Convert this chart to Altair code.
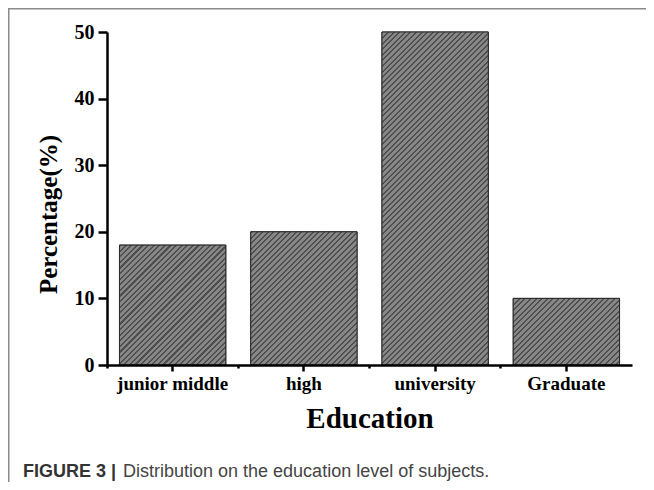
import altair as alt
import pandas as pd

categories = ["junior middle", "high", "university", "Graduate"]
percentages = [18, 20, 50, 10]
y_ticks = [0, 5, 10, 15, 20, 25, 30, 35, 40, 45, 50]
x_title = "Education"
y_title = "Percentage(%)"
caption_bold = "FIGURE 3 |"
caption_text = "Distribution on the education level of subjects."

df = pd.DataFrame({"education": categories, "pct": percentages})
one = pd.DataFrame({"k": [0]})

W, H = 525, 333
PAD = {"left": 99, "top": 24, "right": 14, "bottom": 117}
Y_MAX = 50
P_INNER, P_OUTER = 0.19, 0.095

serif = "Liberation Serif"
sans = "Liberation Sans"

x_scale = alt.Scale(domain=categories, paddingInner=P_INNER, paddingOuter=P_OUTER)
y_scale = alt.Scale(domain=[0, Y_MAX], nice=False)

BASE_FILL = "#707070"
HATCH_LIGHT = "#878787"
HATCH_DARK = "#4e4e4e"
HATCH_PERIOD = 5.6   # horizontal period of the diagonal hatch, px
HATCH_DARK_FRAC = 0.36


def hatch_gradient(w, h):
    """Diagonal '/' hatch as a striped linear gradient in bounding-box units."""
    s = (w + h) / (w * w + h * h)
    span = w + h
    n = int(span / HATCH_PERIOD) + 1
    stops = []
    for i in range(n):
        a = i * HATCH_PERIOD / span
        b = (i + HATCH_DARK_FRAC) * HATCH_PERIOD / span
        c = (i + 1) * HATCH_PERIOD / span
        for off, col in ((a, HATCH_DARK), (min(b, 1), HATCH_DARK), (min(b, 1), HATCH_LIGHT), (min(c, 1), HATCH_LIGHT)):
            if off <= 1:
                stops.append({"offset": round(off, 5), "color": col})
    return {"gradient": "linear", "x1": 0, "y1": 0, "x2": s * w, "y2": s * h, "stops": stops}


step = W / (len(categories) - P_INNER + 2 * P_OUTER)
bar_w = step * (1 - P_INNER)

x_axis = alt.Axis(
    title=x_title, orient="bottom", labelAngle=0, zindex=1,
    domainColor="black", domainWidth=2.5, tickColor="black", tickWidth=2.5, tickSize=6,
    labelFont=serif, labelFontWeight="bold", labelFontSize=19, labelColor="black", labelPadding=3,
    titleFont=serif, titleFontWeight="bold", titleFontSize=29, titleColor="black",
    titleY=53, titleBaseline="middle")
y_axis = alt.Axis(
    values=y_ticks, labelExpr="datum.value % 10 === 0 ? datum.label : ''",
    grid=False, zindex=1,
    domainColor="black", domainWidth=2.5, tickColor="black", tickWidth=2.5,
    tickSize={"condition": {"test": "datum.value % 10 === 0", "value": 9}, "value": 5},
    labelFont=serif, labelFontWeight="bold", labelFontSize=20, labelColor="black", labelPadding=4,
    title=y_title, titleFont=serif, titleFontWeight="bold", titleFontSize=25, titleColor="black",
    titleX=-59, titleY=182, titleBaseline="middle", titleAngle=-90)

bars = alt.Chart(df).mark_bar(fill=BASE_FILL, stroke="#2a2a2a", strokeWidth=1).encode(
    x=alt.X("education:N", scale=x_scale, sort=categories, axis=x_axis),
    y=alt.Y("pct:Q", scale=y_scale, axis=y_axis),
)

hatch_layers = []
for cat, val in zip(categories, percentages):
    bh = val / Y_MAX * H
    hatch_layers.append(
        alt.Chart(df).transform_filter(alt.datum.education == cat)
        .mark_bar(fill=hatch_gradient(bar_w, bh), stroke="#2a2a2a", strokeWidth=1)
        .encode(
            x=alt.X("education:N", scale=x_scale, sort=categories, axis=None),
            y=alt.Y("pct:Q", scale=y_scale),
        )
    )

minor_x = alt.Chart(df).mark_bar(opacity=0).encode(
    x=alt.X("education:N", scale=x_scale, sort=categories, axis=alt.Axis(
        orient="bottom", title=None, labels=False, domain=False, zindex=1,
        tickColor="black", tickWidth=2.5, tickSize=3, bandPosition=-(P_INNER / 2) / (1 - P_INNER))),
)

top_line = alt.Chart(one).mark_rule(color="#8a8a8a", strokeWidth=1.5).encode(
    x=alt.value(-PAD["left"]), x2=alt.value(W + PAD["right"]), y=alt.value(-PAD["top"] + 0.75))
left_line = alt.Chart(one).mark_rule(color="#8a8a8a", strokeWidth=1.5).encode(
    x=alt.value(-PAD["left"] + 0.75), y=alt.value(-PAD["top"]), y2=alt.value(H + PAD["bottom"]))

cap1 = alt.Chart(pd.DataFrame({"t": [caption_bold]})).mark_text(
    align="left", baseline="alphabetic", font=sans, fontWeight="bold", fontSize=18, color="#333333"
).encode(x=alt.value(-84), y=alt.value(445), text="t:N")
cap2 = alt.Chart(pd.DataFrame({"t": [caption_text]})).mark_text(
    align="left", baseline="alphabetic", font=sans, fontSize=18, color="#444444"
).encode(x=alt.value(16), y=alt.value(445), text="t:N")

chart = alt.layer(bars, *hatch_layers, minor_x, top_line, left_line, cap1, cap2).resolve_axis(
    x="independent"
).properties(
    width=W, height=H, padding=PAD, autosize=alt.AutoSizeParams(type="none"),
).configure_view(stroke=None)

chart.save("out.html", embed_options={"renderer": "svg", "actions": False})
